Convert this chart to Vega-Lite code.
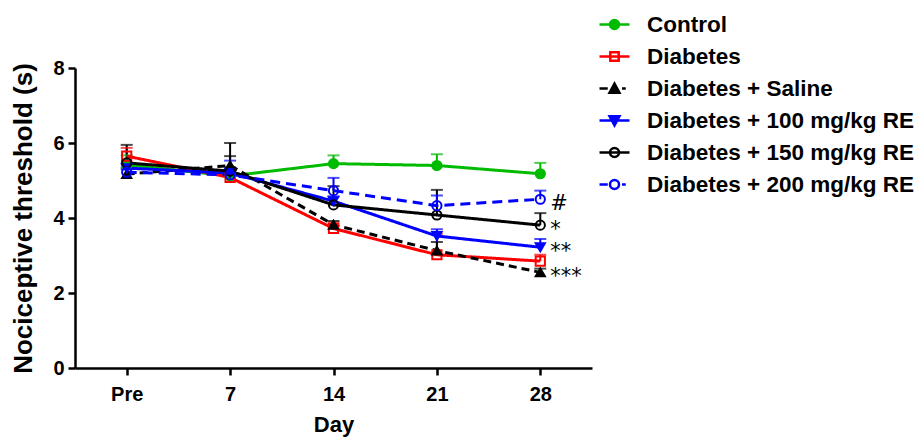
{
  "$schema": "https://vega.github.io/schema/vega-lite/v6.json",
  "padding": {"left": 10, "top": 8, "right": 3, "bottom": 3},
  "background": "white",
  "width": 517,
  "height": 300,
  "config": {
    "font": "Liberation Sans",
    "view": {"stroke": null},
    "axis": {
      "domainColor": "black", "domainWidth": 2.5, "tickColor": "black", "tickWidth": 2.5, "tickSize": 7,
      "labelFont": "Liberation Sans", "labelFontSize": 20, "labelFontWeight": "bold", "labelColor": "black",
      "titleFont": "Liberation Sans", "titleFontWeight": "bold", "titleColor": "black", "grid": false
    }
  },
  "data": {"values": [
    {"series": "Control", "day": "Pre", "value": 5.42, "upper": 5.67},
    {"series": "Control", "day": "7", "value": 5.12, "upper": 5.3},
    {"series": "Control", "day": "14", "value": 5.45, "upper": 5.67},
    {"series": "Control", "day": "21", "value": 5.4, "upper": 5.7},
    {"series": "Control", "day": "28", "value": 5.18, "upper": 5.47},
    {"series": "Diabetes", "day": "Pre", "value": 5.65, "upper": 5.87},
    {"series": "Diabetes", "day": "7", "value": 5.08, "upper": 5.18},
    {"series": "Diabetes", "day": "14", "value": 3.72, "upper": 3.88},
    {"series": "Diabetes", "day": "21", "value": 3.02, "upper": 3.58},
    {"series": "Diabetes", "day": "28", "value": 2.85, "upper": 3.02},
    {"series": "Diabetes + Saline", "day": "Pre", "value": 5.17, "upper": 5.3},
    {"series": "Diabetes + Saline", "day": "7", "value": 5.4, "upper": 5.65},
    {"series": "Diabetes + Saline", "day": "14", "value": 3.82, "upper": 3.92},
    {"series": "Diabetes + Saline", "day": "21", "value": 3.13, "upper": 3.36},
    {"series": "Diabetes + Saline", "day": "28", "value": 2.55, "upper": 2.65, "note": "***"},
    {"series": "Diabetes + 100 mg/kg RE", "day": "Pre", "value": 5.33, "upper": 5.45},
    {"series": "Diabetes + 100 mg/kg RE", "day": "7", "value": 5.2, "upper": 5.53},
    {"series": "Diabetes + 100 mg/kg RE", "day": "14", "value": 4.45, "upper": 4.58},
    {"series": "Diabetes + 100 mg/kg RE", "day": "21", "value": 3.52, "upper": 3.7},
    {"series": "Diabetes + 100 mg/kg RE", "day": "28", "value": 3.22, "upper": 3.44, "note": "**"},
    {"series": "Diabetes + 150 mg/kg RE", "day": "Pre", "value": 5.47, "upper": 5.95},
    {"series": "Diabetes + 150 mg/kg RE", "day": "7", "value": 5.25, "upper": 6.0},
    {"series": "Diabetes + 150 mg/kg RE", "day": "14", "value": 4.35, "upper": 4.85},
    {"series": "Diabetes + 150 mg/kg RE", "day": "21", "value": 4.08, "upper": 4.75},
    {"series": "Diabetes + 150 mg/kg RE", "day": "28", "value": 3.81, "upper": 4.13, "note": "\u2002*"},
    {"series": "Diabetes + 200 mg/kg RE", "day": "Pre", "value": 5.22, "upper": 5.35},
    {"series": "Diabetes + 200 mg/kg RE", "day": "7", "value": 5.15, "upper": 5.35},
    {"series": "Diabetes + 200 mg/kg RE", "day": "14", "value": 4.73, "upper": 5.07},
    {"series": "Diabetes + 200 mg/kg RE", "day": "21", "value": 4.33, "upper": 4.6},
    {"series": "Diabetes + 200 mg/kg RE", "day": "28", "value": 4.5, "upper": 4.73, "note": "#"}
  ]},
  "encoding": {
    "x": {
      "field": "day", "type": "ordinal", "sort": ["Pre", "7", "14", "21", "28"],
      "scale": {"type": "point", "padding": 0.5},
      "title": "Day",
      "axis": {"labelAngle": 0, "labelPadding": 9, "titlePadding": 10, "titleFontSize": 22}
    }
  },
  "resolve": {"scale": {"shape": "independent", "stroke": "independent", "fill": "independent"}},
  "layer": [
    {
      "mark": {"type": "rule", "strokeWidth": 2},
      "encoding": {
        "y": {"field": "value", "type": "quantitative", "title": "Nociceptive threshold (s)", "scale": {"domain": [0, 8], "nice": false},
          "axis": {"values": [0, 2, 4, 6, 8], "labelPadding": 4, "titlePadding": 16, "titleFontSize": 26}},
        "y2": {"field": "upper"},
        "stroke": {"field": "series", "type": "nominal", "legend": null,
          "scale": {"domain": ["Control", "Diabetes", "Diabetes + Saline", "Diabetes + 100 mg/kg RE", "Diabetes + 150 mg/kg RE", "Diabetes + 200 mg/kg RE"],
                    "range": ["#00BB00", "#FF0000", "#000000", "#0000FF", "#000000", "#0000FF"]}}
      }
    },
    {
      "mark": {"type": "tick", "thickness": 2, "size": 12, "orient": "horizontal"},
      "encoding": {
        "y": {"field": "upper", "type": "quantitative", "title": "Nociceptive threshold (s)"},
        "color": {"field": "series", "type": "nominal", "legend": null,
          "scale": {"domain": ["Control", "Diabetes", "Diabetes + Saline", "Diabetes + 100 mg/kg RE", "Diabetes + 150 mg/kg RE", "Diabetes + 200 mg/kg RE"],
                    "range": ["#00BB00", "#FF0000", "#000000", "#0000FF", "#000000", "#0000FF"]}}
      }
    },
    {
      "mark": {"type": "line", "strokeWidth": 3},
      "encoding": {
        "y": {"field": "value", "type": "quantitative", "title": "Nociceptive threshold (s)"},
        "stroke": {"field": "series", "type": "nominal", "legend": null,
          "scale": {"domain": ["Control", "Diabetes", "Diabetes + Saline", "Diabetes + 100 mg/kg RE", "Diabetes + 150 mg/kg RE", "Diabetes + 200 mg/kg RE"],
                    "range": ["#00BB00", "#FF0000", "#000000", "#0000FF", "#000000", "#0000FF"]}},
        "strokeDash": {"field": "series", "type": "nominal", "legend": null,
          "scale": {"domain": ["Control", "Diabetes", "Diabetes + Saline", "Diabetes + 100 mg/kg RE", "Diabetes + 150 mg/kg RE", "Diabetes + 200 mg/kg RE"],
                    "range": [[1, 0], [1, 0], [8, 5], [1, 0], [1, 0], [10, 6]]}}
      }
    },
    {
      "mark": {"type": "point", "size": 85, "strokeWidth": 2, "opacity": 1},
      "encoding": {
        "y": {"field": "value", "type": "quantitative", "title": "Nociceptive threshold (s)"},
        "stroke": {"field": "series", "type": "nominal", "legend": null,
          "scale": {"domain": ["Control", "Diabetes", "Diabetes + Saline", "Diabetes + 100 mg/kg RE", "Diabetes + 150 mg/kg RE", "Diabetes + 200 mg/kg RE"],
                    "range": ["#00BB00", "#FF0000", "#000000", "#0000FF", "#000000", "#0000FF"]}},
        "shape": {"field": "series", "type": "nominal", "legend": null,
          "scale": {"domain": ["Control", "Diabetes", "Diabetes + Saline", "Diabetes + 100 mg/kg RE", "Diabetes + 150 mg/kg RE", "Diabetes + 200 mg/kg RE"],
                    "range": ["circle", "square", "triangle-up", "triangle-down", "circle", "circle"]}},
        "fill": {"field": "series", "type": "nominal", "legend": null,
          "scale": {"domain": ["Control", "Diabetes", "Diabetes + Saline", "Diabetes + 100 mg/kg RE", "Diabetes + 150 mg/kg RE", "Diabetes + 200 mg/kg RE"],
                    "range": ["#00BB00", "transparent", "#000000", "#0000FF", "transparent", "transparent"]}}
      }
    },
    {
      "mark": {"type": "point", "size": 10, "opacity": 0},
      "encoding": {
        "y": {"field": "value", "type": "quantitative", "title": "Nociceptive threshold (s)"},
        "stroke": {"field": "series", "type": "nominal",
          "scale": {"domain": ["Control", "Diabetes", "Diabetes + Saline", "Diabetes + 100 mg/kg RE", "Diabetes + 150 mg/kg RE", "Diabetes + 200 mg/kg RE"],
                    "range": ["#00BB00", "#FF0000", "#000000", "#0000FF", "#000000", "#0000FF"]},
          "legend": {"title": null, "orient": "none", "legendX": 523, "legendY": -60, "padding": 0, "symbolSize": 900, "symbolStrokeWidth": 2.5, "symbolOpacity": 1,
                     "labelFont": "Liberation Sans", "labelFontSize": 22.5, "labelFontWeight": "bold", "labelColor": "black", "labelOffset": 16, "rowPadding": 4, "labelLimit": 0}},
        "shape": {"field": "series", "type": "nominal",
          "scale": {"domain": ["Control", "Diabetes", "Diabetes + Saline", "Diabetes + 100 mg/kg RE", "Diabetes + 150 mg/kg RE", "Diabetes + 200 mg/kg RE"],
                    "range": [
                      "M-1,0H1M-0.3,0A0.3,0.3,0,1,0,0.3,0A0.3,0.3,0,1,0,-0.3,0Z",
                      "M-1,0H1M-0.28,-0.28H0.28V0.28H-0.28Z",
                      "M-1,0H-0.45M0.5,0H0.75M0,-0.33L0.33,0.28H-0.33Z",
                      "M-1,0H1M-0.33,-0.28H0.33L0,0.33Z",
                      "M-1,0H1M-0.3,0A0.3,0.3,0,1,0,0.3,0A0.3,0.3,0,1,0,-0.3,0Z",
                      "M-1,0H-0.45M0.5,0H0.75M-0.3,0A0.3,0.3,0,1,0,0.3,0A0.3,0.3,0,1,0,-0.3,0Z"
                    ]},
          "legend": {"title": null, "orient": "none", "legendX": 523, "legendY": -60, "padding": 0, "symbolSize": 900, "symbolStrokeWidth": 2.5, "symbolOpacity": 1,
                     "labelFont": "Liberation Sans", "labelFontSize": 22.5, "labelFontWeight": "bold", "labelColor": "black", "labelOffset": 16, "rowPadding": 4, "labelLimit": 0}},
        "fill": {"field": "series", "type": "nominal",
          "scale": {"domain": ["Control", "Diabetes", "Diabetes + Saline", "Diabetes + 100 mg/kg RE", "Diabetes + 150 mg/kg RE", "Diabetes + 200 mg/kg RE"],
                    "range": ["#00BB00", "transparent", "#000000", "#0000FF", "transparent", "transparent"]},
          "legend": {"title": null, "orient": "none", "legendX": 523, "legendY": -60, "padding": 0, "symbolSize": 900, "symbolStrokeWidth": 2.5, "symbolOpacity": 1,
                     "labelFont": "Liberation Sans", "labelFontSize": 22.5, "labelFontWeight": "bold", "labelColor": "black", "labelOffset": 16, "rowPadding": 4, "labelLimit": 0}}
      }
    },
    {
      "transform": [{"filter": "datum.note != null"}],
      "mark": {"type": "text", "align": "left", "baseline": "middle", "dx": 10, "dy": 5, "fontSize": 21, "font": "DejaVu Sans", "color": "black"},
      "encoding": {
        "y": {"field": "value", "type": "quantitative", "title": "Nociceptive threshold (s)"},
        "text": {"field": "note"}
      }
    }
  ]
}
